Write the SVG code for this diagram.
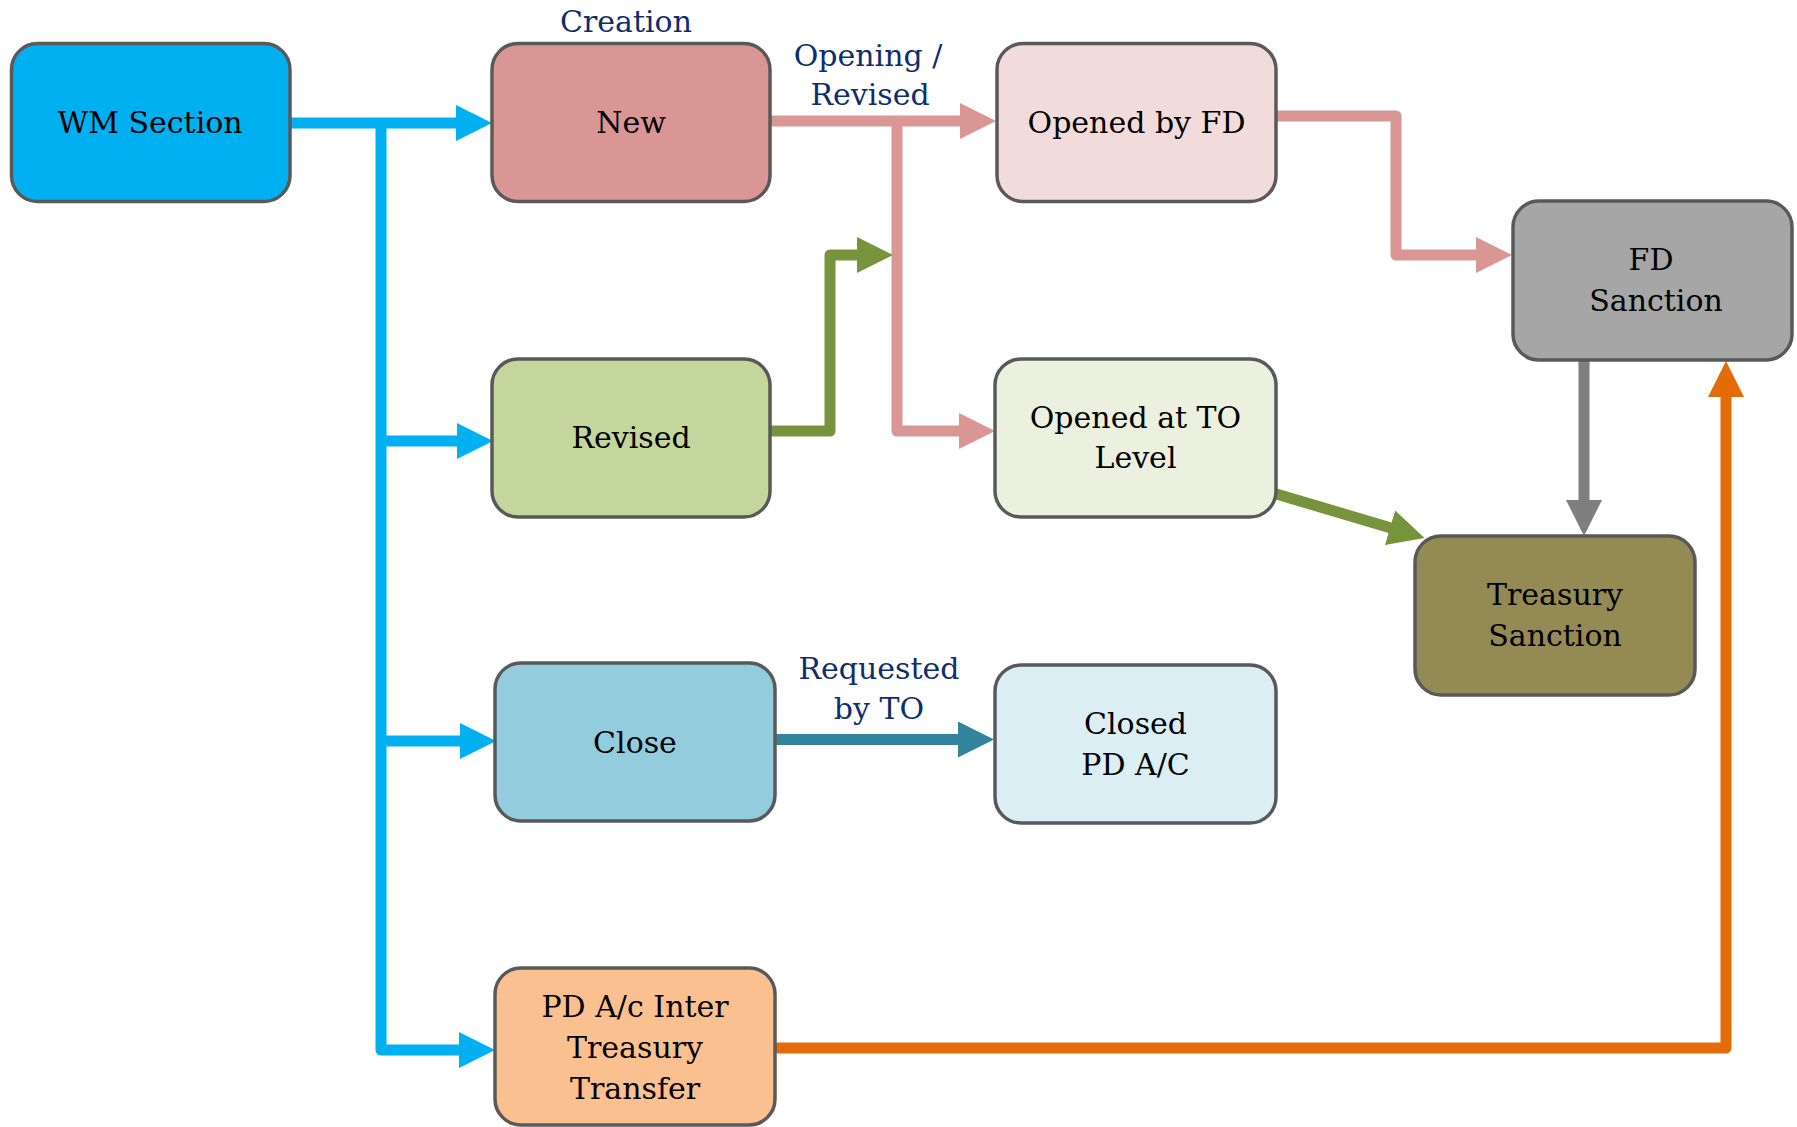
<svg xmlns="http://www.w3.org/2000/svg" width="1797" height="1127" viewBox="0 0 1797 1127">
<defs>
<style>
.box{stroke:#595959;stroke-width:3.5}
.t{font-family:"DejaVu Serif","Liberation Serif",serif;font-size:30px;fill:#000;text-anchor:middle}
.lbl{font-family:"DejaVu Serif","Liberation Serif",serif;font-size:30px;fill:#0F2D6B;text-anchor:middle}
.c{fill:none;stroke-width:11;stroke-linejoin:round}
</style>
<marker id="aBlue" viewBox="0 0 36 36" refX="1" refY="18" markerWidth="36" markerHeight="36" markerUnits="userSpaceOnUse" orient="auto"><path d="M0,0 L36,18 L0,36 z" fill="#00B0F0"/></marker>
<marker id="aPink" viewBox="0 0 36 36" refX="1" refY="18" markerWidth="36" markerHeight="36" markerUnits="userSpaceOnUse" orient="auto"><path d="M0,0 L36,18 L0,36 z" fill="#D99694"/></marker>
<marker id="aGreen" viewBox="0 0 36 36" refX="1" refY="18" markerWidth="36" markerHeight="36" markerUnits="userSpaceOnUse" orient="auto"><path d="M0,0 L36,18 L0,36 z" fill="#77933C"/></marker>
<marker id="aGray" viewBox="0 0 36 36" refX="1" refY="18" markerWidth="36" markerHeight="36" markerUnits="userSpaceOnUse" orient="auto"><path d="M0,0 L36,18 L0,36 z" fill="#7F7F7F"/></marker>
<marker id="aOrange" viewBox="0 0 36 36" refX="1" refY="18" markerWidth="36" markerHeight="36" markerUnits="userSpaceOnUse" orient="auto"><path d="M0,0 L36,18 L0,36 z" fill="#E36C09"/></marker>
<marker id="aTeal" viewBox="0 0 36 36" refX="1" refY="18" markerWidth="36" markerHeight="36" markerUnits="userSpaceOnUse" orient="auto"><path d="M0,0 L36,18 L0,36 z" fill="#31849B"/></marker>
</defs>
<rect width="1797" height="1127" fill="#fff"/>

<g id="connectors">
<path class="c" stroke="#00B0F0" d="M290,123 H457" marker-end="url(#aBlue)"/>
<path class="c" stroke="#00B0F0" d="M381,123 V1050 H460" marker-end="url(#aBlue)"/>
<path class="c" stroke="#00B0F0" d="M381,441 H458" marker-end="url(#aBlue)"/>
<path class="c" stroke="#00B0F0" d="M381,741 H461" marker-end="url(#aBlue)"/>
<path class="c" stroke="#D99694" d="M770,121 H961" marker-end="url(#aPink)"/>
<path class="c" stroke="#D99694" d="M897,121 V431 H960" marker-end="url(#aPink)"/>
<path class="c" stroke="#D99694" d="M1277,116 H1396 V255 H1477" marker-end="url(#aPink)"/>
<path class="c" stroke="#77933C" d="M770,431 H830 V255 H858" marker-end="url(#aGreen)"/>
<path class="c" stroke="#77933C" d="M1273,493 L1391,528" marker-end="url(#aGreen)"/>
<path class="c" stroke="#7F7F7F" d="M1584,360 V501" marker-end="url(#aGray)"/>
<path class="c" stroke="#E36C09" d="M775,1048 H1726 V396" marker-end="url(#aOrange)"/>
<path class="c" stroke="#31849B" d="M775,739.5 H959" marker-end="url(#aTeal)"/>
</g>

<g id="labels">
<text class="lbl" x="626" y="32">Creation</text>
<text class="lbl" x="868" y="66">Opening /</text>
<text class="lbl" x="870" y="105">Revised</text>
<text class="lbl" x="879" y="679">Requested</text>
<text class="lbl" x="879" y="719">by TO</text>
</g>

<g id="wm-section">
<rect class="box" x="11.5" y="43.5" width="278.5" height="158" rx="26" fill="#00B0F0"/>
<text class="t" x="150" y="133">WM Section</text>
</g>
<g id="new">
<rect class="box" x="492" y="43.5" width="278" height="158" rx="26" fill="#D99694"/>
<text class="t" x="631" y="133">New</text>
</g>
<g id="opened-by-fd">
<rect class="box" x="997" y="43.5" width="279" height="158" rx="26" fill="#F2DCDB"/>
<text class="t" x="1136.5" y="133">Opened by FD</text>
</g>
<g id="fd-sanction">
<rect class="box" x="1513" y="201" width="279" height="159" rx="26" fill="#A6A6A6"/>
<text class="t" x="1651" y="270">FD</text>
<text class="t" x="1656" y="311">Sanction</text>
</g>
<g id="revised">
<rect class="box" x="492" y="359" width="278" height="158" rx="26" fill="#C3D69B"/>
<text class="t" x="631" y="448">Revised</text>
</g>
<g id="opened-at-to-level">
<rect class="box" x="995" y="359" width="281" height="158" rx="26" fill="#EBF1DE"/>
<text class="t" x="1135.5" y="428">Opened at TO</text>
<text class="t" x="1135.5" y="468">Level</text>
</g>
<g id="treasury-sanction">
<rect class="box" x="1415" y="536" width="280" height="159" rx="26" fill="#948A54"/>
<text class="t" x="1555" y="605">Treasury</text>
<text class="t" x="1555" y="646">Sanction</text>
</g>
<g id="close">
<rect class="box" x="495" y="663" width="280" height="158" rx="26" fill="#93CDDD"/>
<text class="t" x="635" y="753">Close</text>
</g>
<g id="closed-pd-ac">
<rect class="box" x="995" y="665" width="281" height="158" rx="26" fill="#DBEEF4"/>
<text class="t" x="1135.5" y="734">Closed</text>
<text class="t" x="1135.5" y="775">PD A/C</text>
</g>
<g id="pd-inter-treasury-transfer">
<rect class="box" x="495" y="968" width="280" height="157" rx="26" fill="#FAC090"/>
<text class="t" x="635" y="1017">PD A/c Inter</text>
<text class="t" x="635" y="1058">Treasury</text>
<text class="t" x="635" y="1099">Transfer</text>
</g>
</svg>
